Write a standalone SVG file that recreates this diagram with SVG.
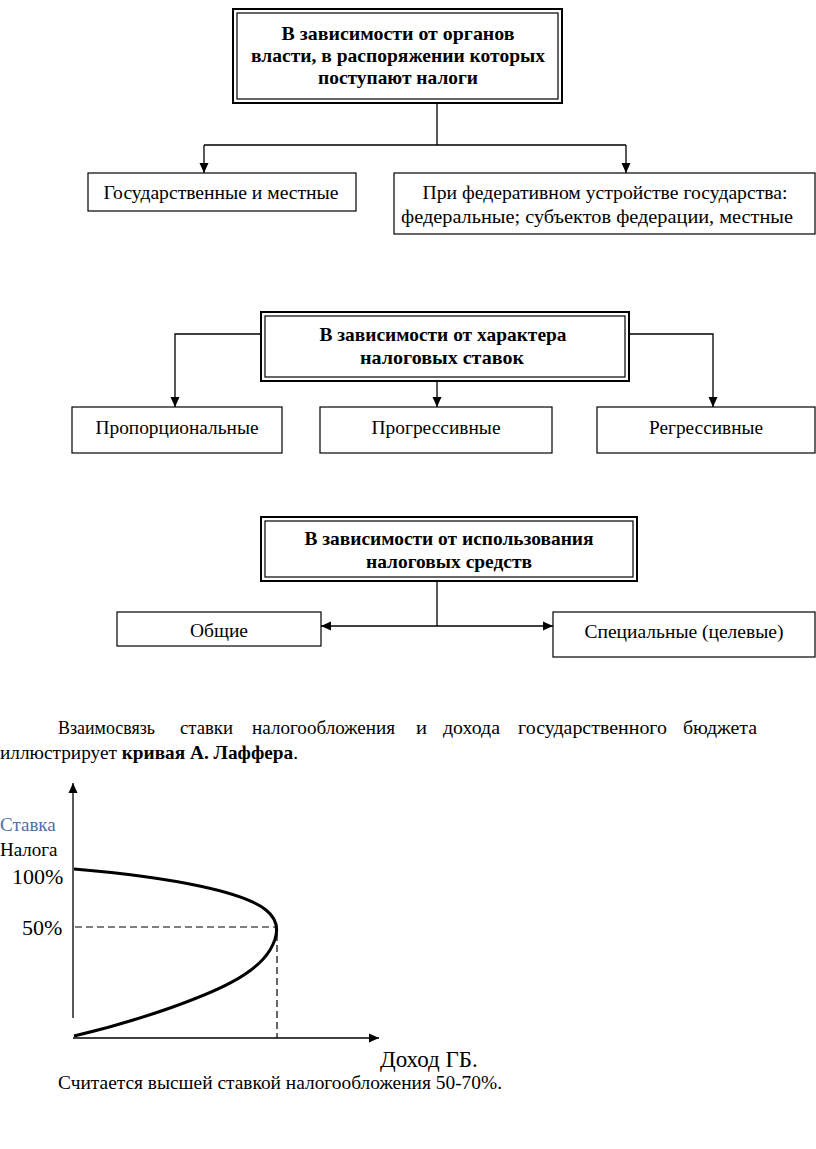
<svg xmlns="http://www.w3.org/2000/svg" width="816" height="1149" viewBox="0 0 816 1149">
<style>
text{font-family:"Liberation Serif","Times New Roman",serif;fill:#000}
.b{font-weight:bold;font-size:19px}
.n{font-size:19px}
.box{fill:#fff;stroke:#000;stroke-width:1.2}
.o{fill:#fff;stroke:#000;stroke-width:2}
.i{fill:none;stroke:#000;stroke-width:1.2}
.ln{fill:none;stroke:#000;stroke-width:1.3}
.dash{fill:none;stroke:#000;stroke-width:1.2;stroke-dasharray:7 4}
</style>
<defs>
<marker id="ah" viewBox="0 0 10 10" refX="10" refY="5" markerWidth="10" markerHeight="10" markerUnits="userSpaceOnUse" orient="auto">
<path d="M0,0.5 L10,5 L0,9.5 z" fill="#000"/>
</marker>
<marker id="ahs" viewBox="0 0 10 10" refX="0" refY="5" markerWidth="10" markerHeight="10" markerUnits="userSpaceOnUse" orient="auto">
<path d="M10,0.5 L0,5 L10,9.5 z" fill="#000"/>
</marker>
</defs>
<rect width="816" height="1149" fill="#fff"/>

<g id="connectors">
<path class="ln" d="M437,103 V145 M204,145 H626"/>
<path class="ln" d="M204,145 V173" marker-end="url(#ah)"/>
<path class="ln" d="M626,145 V173" marker-end="url(#ah)"/>
<path class="ln" d="M261,334 H175 V407" marker-end="url(#ah)"/>
<path class="ln" d="M629,334 H713 V407" marker-end="url(#ah)"/>
<path class="ln" d="M437,381 V407" marker-end="url(#ah)"/>
<path class="ln" d="M437,581 V626"/>
<path class="ln" d="M321,626 H553" marker-start="url(#ahs)" marker-end="url(#ah)"/>
</g>

<g id="n1">
<rect class="o" x="233" y="9" width="329" height="94"/>
<rect class="i" x="237" y="13" width="321" height="86"/>
<text class="b" x="398" y="40" text-anchor="middle" textLength="233" lengthAdjust="spacingAndGlyphs">В зависимости от органов</text>
<text class="b" x="398" y="62" text-anchor="middle" textLength="294" lengthAdjust="spacingAndGlyphs">власти, в распоряжении которых</text>
<text class="b" x="398" y="84" text-anchor="middle" textLength="160" lengthAdjust="spacingAndGlyphs">поступают налоги</text>
</g>
<g id="n2">
<rect class="box" x="88" y="173" width="268" height="38"/>
<text class="n" x="221" y="199" text-anchor="middle" textLength="235" lengthAdjust="spacingAndGlyphs">Государственные и местные</text>
</g>
<g id="n3">
<rect class="box" x="394" y="173" width="421" height="61"/>
<text class="n" x="605" y="199" text-anchor="middle" textLength="365" lengthAdjust="spacingAndGlyphs">При федеративном устройстве государства:</text>
<text class="n" x="597" y="223" text-anchor="middle" textLength="392" lengthAdjust="spacingAndGlyphs">федеральные; субъектов федерации, местные</text>
</g>

<g id="n4">
<rect class="o" x="261" y="312" width="368" height="69"/>
<rect class="i" x="265" y="316" width="360" height="61"/>
<text class="b" x="443" y="341" text-anchor="middle" textLength="247" lengthAdjust="spacingAndGlyphs">В зависимости от характера</text>
<text class="b" x="442" y="364" text-anchor="middle" textLength="164" lengthAdjust="spacingAndGlyphs">налоговых ставок</text>
</g>
<g id="n5">
<rect class="box" x="72" y="407" width="210" height="46"/>
<text class="n" x="177" y="434" text-anchor="middle" textLength="163" lengthAdjust="spacingAndGlyphs">Пропорциональные</text>
</g>
<g id="n6">
<rect class="box" x="320" y="407" width="232" height="46"/>
<text class="n" x="436" y="434" text-anchor="middle" textLength="129" lengthAdjust="spacingAndGlyphs">Прогрессивные</text>
</g>
<g id="n7">
<rect class="box" x="597" y="407" width="218" height="46"/>
<text class="n" x="706" y="434" text-anchor="middle" textLength="114" lengthAdjust="spacingAndGlyphs">Регрессивные</text>
</g>

<g id="n8">
<rect class="o" x="261" y="517" width="376" height="64"/>
<rect class="i" x="265" y="521" width="368" height="56"/>
<text class="b" x="449" y="545" text-anchor="middle" textLength="289" lengthAdjust="spacingAndGlyphs">В зависимости от использования</text>
<text class="b" x="449" y="568" text-anchor="middle" textLength="166" lengthAdjust="spacingAndGlyphs">налоговых средств</text>
</g>
<g id="n9">
<rect class="box" x="117" y="612" width="204" height="34"/>
<text class="n" x="219" y="637" text-anchor="middle" textLength="58" lengthAdjust="spacingAndGlyphs">Общие</text>
</g>
<g id="n10">
<rect class="box" x="553" y="612" width="262" height="45"/>
<text class="n" x="684" y="638" text-anchor="middle" textLength="199" lengthAdjust="spacingAndGlyphs">Специальные (целевые)</text>
</g>

<g id="paragraph">
<text class="n" y="734"><tspan x="58" textLength="97" lengthAdjust="spacingAndGlyphs">Взаимосвязь</tspan> <tspan x="180" textLength="53" lengthAdjust="spacingAndGlyphs">ставки</tspan> <tspan x="252" textLength="143" lengthAdjust="spacingAndGlyphs">налогообложения</tspan> <tspan x="416" textLength="11" lengthAdjust="spacingAndGlyphs">и</tspan> <tspan x="443" textLength="57" lengthAdjust="spacingAndGlyphs">дохода</tspan> <tspan x="518" textLength="149" lengthAdjust="spacingAndGlyphs">государственного</tspan> <tspan x="683" textLength="74" lengthAdjust="spacingAndGlyphs">бюджета</tspan></text>
<text class="n" x="0" y="759" textLength="298" lengthAdjust="spacingAndGlyphs">иллюстрирует <tspan font-weight="bold">кривая А. Лаффера</tspan>.</text>
</g>

<g id="graph">
<path class="ln" d="M73,1018 V783" marker-end="url(#ah)"/>
<path class="ln" d="M73,1038 H379" marker-end="url(#ah)"/>
<path class="dash" d="M75,927 H277 V1038"/>
<path d="M74,869 C180,878 245,893 266,910 C280,921 279,935 270,950 C255,975 215,992 170,1008 C130,1022 100,1030 74,1036" fill="none" stroke="#000" stroke-width="3"/>
<text x="0" y="831" font-size="19" style="fill:#4f6fa8">Ставка</text>
<text x="0" y="856" font-size="19">Налога</text>
<text x="12" y="884" font-size="22">100%</text>
<text x="22" y="935" font-size="22">50%</text>
<text x="380" y="1067" font-size="23">Доход ГБ.</text>
<text class="n" x="58" y="1089" textLength="444" lengthAdjust="spacingAndGlyphs">Считается высшей ставкой налогообложения 50-70%.</text>
</g>
</svg>
